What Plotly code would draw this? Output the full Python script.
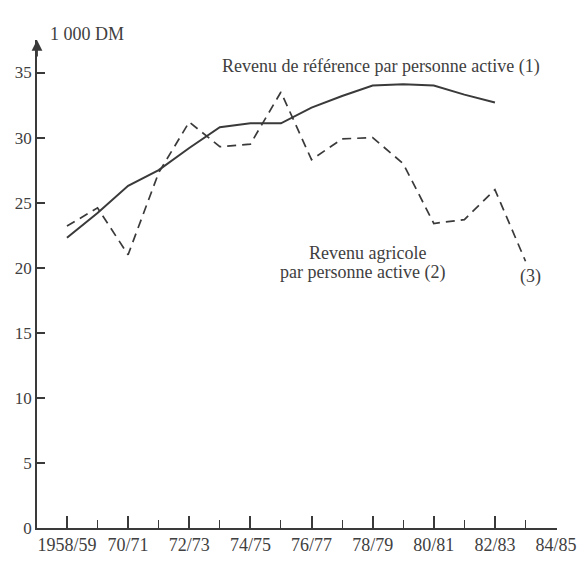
import plotly.graph_objects as go

positions = list(range(17))
tick_labels = ["1958/59", "", "70/71", "", "72/73", "", "74/75", "", "76/77", "", "78/79", "", "80/81", "", "82/83", "", "84/85"]

ref_x = list(range(15))
ref_income = [22.3, 24.2, 26.3, 27.5, 29.2, 30.8, 31.1, 31.1, 32.3, 33.2, 34.0, 34.1, 34.0, 33.3, 32.7]

agri_x = list(range(16))
agri_income = [23.2, 24.6, 21.0, 27.3, 31.2, 29.3, 29.5, 33.5, 28.3, 29.9, 30.0, 28.0, 23.4, 23.7, 26.0, 20.5]

y_ticks = [0, 5, 10, 15, 20, 25, 30, 35]

ink = "#3a3a3a"
txt = "#404040"
font = dict(family="Liberation Serif", size=18, color=txt)
yfont = dict(family="Liberation Serif", size=17, color=txt)

fig = go.Figure()
fig.add_trace(go.Scatter(x=ref_x, y=ref_income, mode="lines",
                         line=dict(color=ink, width=2), hoverinfo="skip"))
fig.add_trace(go.Scatter(x=agri_x, y=agri_income, mode="lines",
                         line=dict(color=ink, width=1.7, dash="9px,6px"), hoverinfo="skip"))

fig.update_layout(
    width=580, height=563,
    margin=dict(l=37, r=23, t=40, b=35, autoexpand=False),
    paper_bgcolor="white", plot_bgcolor="white",
    showlegend=False,
    font=font,
    xaxis=dict(range=[-0.98, 16.03], tickmode="array", tickvals=positions[::2],
               ticktext=tick_labels[::2], ticks="inside", ticklen=12, tickwidth=1.5,
               tickcolor=ink, showline=True, linecolor=ink, linewidth=1.5,
               showgrid=False, zeroline=False, tickfont=font, automargin=False,
               minor=dict(tickvals=positions[1::2], ticks="inside", ticklen=8,
                          tickwidth=1.3, tickcolor=ink, showgrid=False)),
    yaxis=dict(range=[0, 37.5], tickmode="array", tickvals=y_ticks,
               ticks="inside", ticklen=8, tickwidth=1.5, tickcolor=ink,
               showline=True, linecolor=ink, linewidth=1.8, showgrid=False,
               zeroline=False, tickfont=yfont, automargin=False),
)

fig.add_annotation(xref="paper", yref="paper", x=0, y=1.0, ax=0, ay=18,
                   showarrow=True, arrowhead=2, arrowsize=1.2, arrowwidth=1.8,
                   arrowcolor=ink, text="")
fig.add_annotation(xref="paper", yref="paper", x=0.021, y=1.037, text="1 000 DM",
                   showarrow=False, font=font)
fig.add_annotation(x=10.26, y=35.5, text="Revenu de référence par personne active (1)",
                   showarrow=False, font=font)
fig.add_annotation(x=9.84, y=21.1, text="Revenu agricole", showarrow=False, font=font)
fig.add_annotation(x=9.67, y=19.6, text="par personne active (2)", showarrow=False, font=font)
fig.add_annotation(x=15.16, y=19.3, text="(3)", showarrow=False, font=font)

fig.write_html("out.html", config={"displayModeBar": False},
               post_script="document.body.style.margin='0';document.body.style.overflow='hidden';")
